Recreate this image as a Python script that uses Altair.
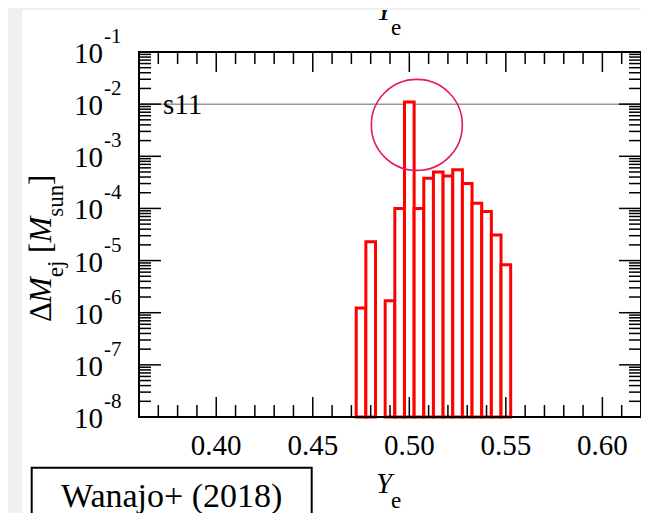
import altair as alt
import pandas as pd

# ---------------- data ----------------
ye_bin_center = [0.475, 0.480, 0.485, 0.490, 0.495, 0.500, 0.505, 0.510,
                 0.515, 0.520, 0.525, 0.530, 0.535, 0.540, 0.545, 0.550]
dm_ej = [1.23e-6, 2.3e-5, 0.0, 1.7e-6, 1.0e-4, 1.1e-2, 1.0e-4, 3.8e-4,
         5.0e-4, 4.2e-4, 5.5e-4, 3.0e-4, 1.26e-4, 8.7e-5, 3.1e-5, 8.3e-6]
bin_width = 0.005

x_major = [0.40, 0.45, 0.50, 0.55, 0.60]
x_labels = ["0.40", "0.45", "0.50", "0.55", "0.60"]
x_minor = [0.37, 0.38, 0.39, 0.41, 0.42, 0.43, 0.44, 0.46, 0.47, 0.48, 0.49,
           0.51, 0.52, 0.53, 0.54, 0.56, 0.57, 0.58, 0.59, 0.61]
y_major = [1e-8, 1e-7, 1e-6, 1e-5, 1e-4, 1e-3, 1e-2, 1e-1]
y_exp_labels = ["-8", "-7", "-6", "-5", "-4", "-3", "-2", "-1"]
y_minor = [k * 10.0 ** e for e in range(-8, -1) for k in range(2, 10)]

ref_level = [1e-2]
model_name = ["s11"]
circle_ye = [0.5039]
circle_dm = [4.0e-3]
credit = ["Wanajo+ (2018)"]

W, H = 502, 365
SERIF = "Liberation Serif"

xs = alt.Scale(domain=[0.36, 0.62], nice=False, zero=False)
ys = alt.Scale(type="log", domain=[1e-8, 1e-1], nice=False)

bars_df = pd.DataFrame({
    "x0": [c - bin_width / 2 for c in ye_bin_center],
    "x1": [c + bin_width / 2 for c in ye_bin_center],
    "v": dm_ej,
})
bars_df = bars_df[bars_df.v > 0]

one = pd.DataFrame({"a": [0]})

def px_rect(x, x2, y, y2, **kw):
    return alt.Chart(one).mark_rect(**kw).encode(
        x=alt.value(x), x2=alt.value(x2), y=alt.value(y), y2=alt.value(y2))

def px_text(txt, x, y, **kw):
    return alt.Chart(pd.DataFrame({"t": [txt]})).mark_text(font=SERIF, **kw).encode(
        x=alt.value(x), y=alt.value(y), text="t:N")

panel = px_rect(-117, 520, -42, 470, fill="white")

# clipped x-title of the panel above
top_Y = px_text("Y", 237, -32, fontSize=29, fontStyle="italic", align="left", baseline="alphabetic")
top_e = px_text("e", 252, -17, fontSize=23, align="left", baseline="alphabetic")
top_strip = px_rect(-200, 600, -60, -42, fill="#f0f0f0")

refline = alt.Chart(pd.DataFrame({"r": ref_level})).mark_rule(
    color="#999999", strokeWidth=1.5).encode(
    y=alt.Y("r:Q", scale=ys, axis=None), x=alt.value(0), x2=alt.value(W))

bars = alt.Chart(bars_df).mark_rect(
    fill="white", stroke="#ff0000", strokeWidth=3).encode(
    x=alt.X("x0:Q", scale=xs, axis=None), x2="x1:Q",
    y=alt.Y("v:Q", scale=ys, axis=None), y2=alt.value(H))

s11 = alt.Chart(pd.DataFrame({"t": model_name, "r": ref_level})).mark_text(
    font=SERIF, fontSize=29, align="left", baseline="alphabetic", dy=10).encode(
    y=alt.Y("r:Q", scale=ys, axis=None), x=alt.value(24), text="t:N")

def xticks(vals, y, y2):
    return alt.Chart(pd.DataFrame({"t": vals})).mark_rule(color="black", strokeWidth=1.5).encode(
        x=alt.X("t:Q", scale=xs, axis=None), y=alt.value(y), y2=alt.value(y2))

def yticks(vals, x, x2):
    return alt.Chart(pd.DataFrame({"t": vals})).mark_rule(color="black", strokeWidth=1.5).encode(
        y=alt.Y("t:Q", scale=ys, axis=None), x=alt.value(x), x2=alt.value(x2))

ticks = [
    xticks(x_major, H, H - 20), xticks(x_major, 0, 20),
    xticks(x_minor, H, H - 12), xticks(x_minor, 0, 12),
    yticks(y_major[1:-1], 0, 22), yticks(y_major[1:-1], W, W - 22),
    yticks(y_minor, 0, 12), yticks(y_minor, W, W - 12),
]

frame = px_rect(0, W, 0, H, fillOpacity=0, stroke="black", strokeWidth=2)

ylab_df = pd.DataFrame({"t": y_major, "e": y_exp_labels, "b": ["10"] * len(y_major)})
ylab10 = alt.Chart(ylab_df).mark_text(
    font=SERIF, fontSize=29, align="right", baseline="alphabetic", dy=11).encode(
    y=alt.Y("t:Q", scale=ys, axis=None), x=alt.value(-36), text="b:N")
ylabexp = alt.Chart(ylab_df).mark_text(
    font=SERIF, fontSize=21, align="left", baseline="alphabetic", dy=-9).encode(
    y=alt.Y("t:Q", scale=ys, axis=None), x=alt.value(-35), text="e:N")

xlab = alt.Chart(pd.DataFrame({"t": x_major, "l": x_labels})).mark_text(
    font=SERIF, fontSize=29, align="center", baseline="alphabetic").encode(
    x=alt.X("t:Q", scale=xs, axis=None), y=alt.value(403), text="l:N")

circle = alt.Chart(pd.DataFrame({"x": circle_ye, "y": circle_dm})).mark_point(
    shape="circle", filled=False, size=8281, stroke="#e6176a", strokeWidth=1.6, opacity=1).encode(
    x=alt.X("x:Q", scale=xs, axis=None), y=alt.Y("y:Q", scale=ys, axis=None))

# x title
xt_Y = px_text("Y", 237, 441, fontSize=29, fontStyle="italic", align="left", baseline="alphabetic")
xt_e = px_text("e", 252, 456, fontSize=23, align="left", baseline="alphabetic")

# y title pieces (rotated)
MB, SB = -88.5, -76
yt = [
    px_text("Δ", MB, 270, fontSize=31, angle=270, align="left", baseline="alphabetic"),
    px_text("M", MB, 251, fontSize=31, fontStyle="italic", angle=270, align="left", baseline="alphabetic"),
    px_text("ej", SB, 225.2, fontSize=23, angle=270, align="left", baseline="alphabetic"),
    px_text("[", MB, 200.9, fontSize=31, angle=270, align="left", baseline="alphabetic"),
    px_text("M", MB, 190.6, fontSize=31, fontStyle="italic", angle=270, align="left", baseline="alphabetic"),
    px_text("sun", SB, 164.8, fontSize=23, angle=270, align="left", baseline="alphabetic"),
    px_text("]", MB, 132.9, fontSize=31, angle=270, align="left", baseline="alphabetic"),
]

box = px_rect(-107.3, 172.7, 415.7, 490, fill="white", stroke="black", strokeWidth=2)
box_text = px_text(credit[0], 32.7, 455, fontSize=34, align="center", baseline="alphabetic")

chart = alt.layer(
    panel, top_Y, top_e, top_strip, refline, bars, s11, *ticks, frame,
    ylab10, ylabexp, xlab, circle, xt_Y, xt_e, *yt, box, box_text
).properties(
    width=W, height=H,
    padding={"left": 131, "top": 44, "right": 0, "bottom": 96},
    autosize=alt.AutoSizeParams(type="none"),
    background="#f0f0f0",
).configure_view(strokeWidth=0)

chart.save("out.html", embed_options={"renderer": "svg", "actions": False})
